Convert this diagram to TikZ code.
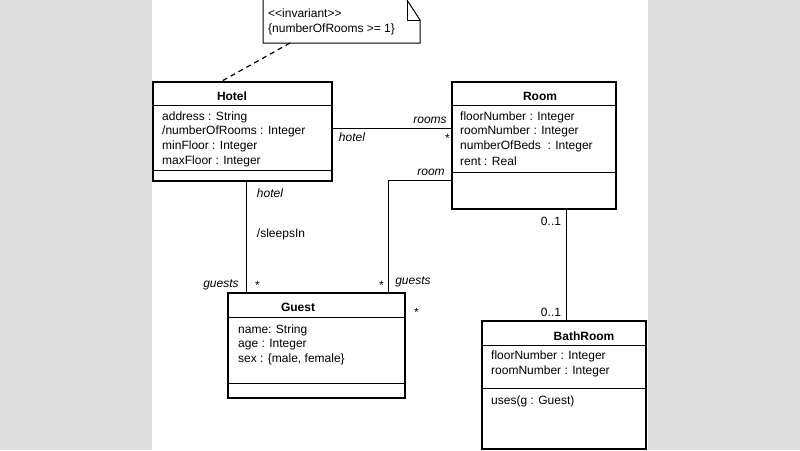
\documentclass[tikz,border=0pt]{standalone}
\usepackage{fontspec}
\setmainfont{Liberation Sans}[Ligatures=NoCommon]
\begin{document}
\begin{tikzpicture}[x=1pt,y=-1pt,
  box/.style={draw,line width=1.2pt},
  ln/.style={line width=1pt},
  t/.style={anchor=west,inner sep=0pt,font=\fontsize{12}{13}\selectfont},
  lab/.style={inner sep=0pt,font=\fontsize{12}{13}\selectfont\itshape},
  ttl/.style={inner sep=0pt,font=\fontsize{12}{13}\selectfont\bfseries}]
\fill[gray!25] (0,0) rectangle (800,450);
\fill[white] (152,0) rectangle (648,450);
\useasboundingbox (0,0) rectangle (800,450);
% note
\draw[line width=1pt] (263,0) -- (263,43) -- (420,43) -- (420,20) -- (407,0);
\draw[line width=0.8pt] (407,0) -- (407,20) -- (420,20);
\node[t] (n1) at (268,13) {<{}<invariant>{}>};
\node[t] (n2) at (268,29) {\{numberOfRooms >= 1\}};
\coordinate (nb) at (290,43);
% Hotel
\draw[box] (153,82) rectangle (332,181);
\draw[ln] (153,105) -- (332,105) (153,170) -- (332,170);
\node[ttl] (hotel) at (232,96) {Hotel};
\node[t] at (162,117) {address : String};
\node[t] at (162,131) {/numberOfRooms : Integer};
\node[t] at (162,146) {minFloor : Integer};
\node[t] at (162,161) {maxFloor : Integer};
\coordinate (ht) at (222,81);
\draw[line width=1.2pt,dash pattern=on 5pt off 4pt] (nb) -- (ht);
% Room
\draw[box] (452,82) rectangle (616,209);
\draw[ln] (452,105) -- (616,105) (452,172) -- (616,172);
\node[ttl] (room) at (540,96) {Room};
\node[t] at (460,117) {floorNumber : Integer};
\node[t] at (460,131) {roomNumber : Integer};
\node[t] at (460,146) {numberOfBeds \ : Integer};
\node[t] at (460,161) {rent : Real};
% Guest
\draw[box] (228,293) rectangle (405,398);
\draw[ln] (228,317) -- (405,317) (228,383) -- (405,383);
\node[ttl] (guest) at (298,307) {Guest};
\node[t] at (238,330) {name: String};
\node[t] at (238,345) {age : Integer};
\node[t] at (238,359) {sex : \{male, female\}};
% BathRoom
\draw[box] (482,321) rectangle (646,449);
\draw[ln] (482,345) -- (646,345) (482,388) -- (646,388);
\node[ttl] (bath) at (584,336) {BathRoom};
\node[t] at (491,356) {floorNumber : Integer};
\node[t] at (491,371) {roomNumber : Integer};
\node[t] at (491,401) {uses(g : Guest)};
% associations
\coordinate (a1) at (332,128); \coordinate (a2) at (452,128);
\draw[ln] (a1) -- (a2);
\node[lab] at (430,120) {rooms};
\node[lab] at (447,138) {*};
\node[lab] at (352,137) {hotel};
\coordinate (b1) at (452,180); \coordinate (b2) at (388,293);
\draw[ln] (b1) -| (b2);
\node[lab] at (431,172) {room};
\coordinate (c1) at (246,181); \coordinate (c2) at (246,293);
\draw[ln] (c1) -- (c2);
\node[lab] at (270,193) {hotel};
\node[inner sep=0pt,font=\fontsize{12}{13}\selectfont] at (281,234) {/sleepsIn};
\node[lab] at (221,285) {guests};
\node[lab] at (257,285) {*};
\node[lab] at (381,285) {*};
\node[lab] at (413,282) {guests};
\node[lab] at (416,312) {*};
\coordinate (d1) at (566,209); \coordinate (d2) at (566,321);
\draw[ln] (d1) -- (d2);
\node[inner sep=0pt,font=\fontsize{12}{13}\selectfont] at (551,221) {0..1};
\node[inner sep=0pt,font=\fontsize{12}{13}\selectfont] at (551,312) {0..1};
\end{tikzpicture}
\end{document}
